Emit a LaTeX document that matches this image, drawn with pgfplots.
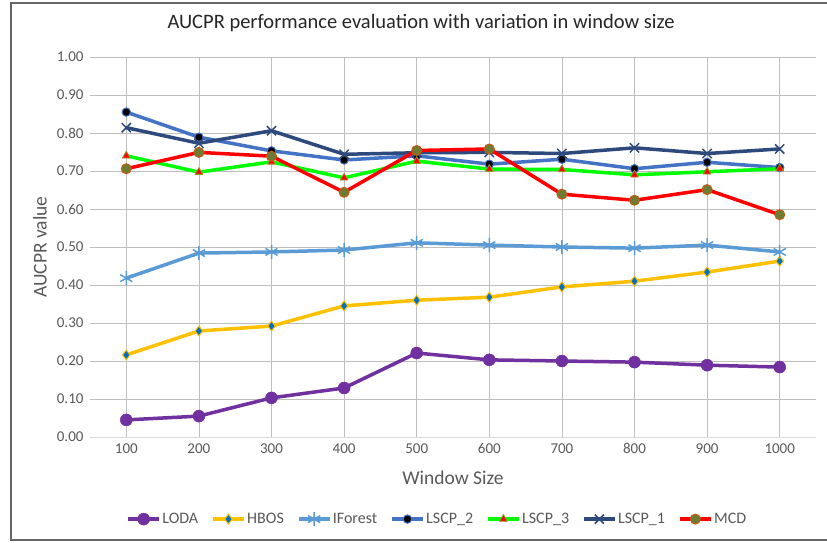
\documentclass[border=0pt]{standalone}
\usepackage{fontspec}
\setmainfont{Carlito}
\usepackage{pgfplots}
\pgfplotsset{compat=1.18}
\usetikzlibrary{plotmarks}
\definecolor{grid}{HTML}{D9D9D9}
\definecolor{txt}{HTML}{595959}
\definecolor{loda}{HTML}{7030A0}
\definecolor{hbos}{HTML}{FFC000}
\definecolor{hbosm}{HTML}{0070C0}
\definecolor{ifor}{HTML}{5B9BD5}
\definecolor{lscptwo}{HTML}{4472C4}
\definecolor{lscpthree}{HTML}{00FF00}
\definecolor{lscpone}{HTML}{2E4A7D}
\definecolor{mcd}{HTML}{FF0000}
\definecolor{mcdm}{HTML}{6E7B33}
\definecolor{mcdedge}{HTML}{C55A11}
\begin{document}
\begin{tikzpicture}[x=1pt,y=1pt]
\useasboundingbox (-90,-105) rectangle (737,437);
\draw[color=black!60, line width=1.2pt] (737,434) -- (-79,434) -- (-79,-103) -- (737,-103);
\begin{axis}[
  at={(0,0)}, anchor=south west,
  scale only axis, width=726pt, height=380pt,
  xmin=0.5, xmax=10.5, ymin=0, ymax=1,
  xtick={1,...,10},
  xticklabels={100,200,300,400,500,600,700,800,900,1000},
  ytick={0,0.1,...,1.01},
  yticklabel={\pgfmathprintnumber[fixed,fixed zerofill,precision=2]{\tick}},
  /pgf/number format/assume math mode=true,
  ymajorgrids, grid style={grid, line width=0.8pt},
  axis x line*=bottom, axis y line*=left,
  x axis line style={draw=grid, line width=0.8pt},
  y axis line style={draw=none},
  major tick length=0pt,
  tick label style={font=\fontsize{15}{17}\selectfont, text=txt},
  yticklabel style={xshift=-3pt},
  xticklabel style={yshift=-3pt},
  xlabel={Window Size}, ylabel={AUCPR value},
  label style={font=\fontsize{19.5}{21}\selectfont, text=txt},
  xlabel style={at={(0.5,-0.108)}, anchor=center},
  ylabel style={at={(-0.069,0.5)}, anchor=center, rotate=0},
  title={AUCPR performance evaluation with variation in window size},
  title style={font=\fontsize{20.5}{22}\selectfont, text=black!85, at={(0.456,1.074)}, anchor=center},
  legend columns=7,
  legend style={at={(0.478,-0.216)}, anchor=center, draw=none, fill=none,
    font=\fontsize{16}{18}\selectfont, text=txt,
    nodes={inner xsep=1.5pt},
    /tikz/every even column/.append style={column sep=11.5pt}},
  legend image code/.code={
    \draw[#1, mark repeat=2, mark phase=2] plot coordinates {(0pt,0pt) (15.5pt,0pt) (31pt,0pt)};
  },
  every axis plot/.append style={line width=3.5pt, line join=round},
  clip=false,
]
\addplot[loda, mark=*, mark size=6pt, mark options={fill=loda, draw=loda, line width=0.5pt}]
 coordinates {(1,0.045)(2,0.055)(3,0.103)(4,0.129)(5,0.221)(6,0.203)(7,0.200)(8,0.197)(9,0.189)(10,0.184)};
\addlegendentry{LODA}
\addplot[hbos, mark=diamond*, mark size=5pt, mark options={fill=hbosm, draw=hbos, line width=1pt}]
 coordinates {(1,0.216)(2,0.279)(3,0.292)(4,0.345)(5,0.360)(6,0.368)(7,0.395)(8,0.410)(9,0.434)(10,0.463)};
\addlegendentry{HBOS}
\addplot[ifor, mark=asterisk, mark size=7pt, mark options={draw=ifor, line width=1.5pt}]
 coordinates {(1,0.418)(2,0.484)(3,0.487)(4,0.492)(5,0.511)(6,0.505)(7,0.500)(8,0.497)(9,0.505)(10,0.487)};
\addlegendentry{IForest}
\addplot[lscptwo, mark=*, mark size=4.2pt, mark options={fill=black, draw=lscptwo, line width=1pt}]
 coordinates {(1,0.855)(2,0.789)(3,0.753)(4,0.729)(5,0.740)(6,0.718)(7,0.731)(8,0.706)(9,0.723)(10,0.709)};
\addlegendentry{LSCP\_2}
\addplot[lscpthree, mark=triangle*, mark size=4.5pt, mark options={fill=mcd, draw=mcdm!70!hbos, line width=0.8pt}]
 coordinates {(1,0.740)(2,0.697)(3,0.724)(4,0.682)(5,0.726)(6,0.705)(7,0.704)(8,0.690)(9,0.698)(10,0.706)};
\addlegendentry{LSCP\_3}
\addplot[lscpone, mark=x, mark size=6.5pt, mark options={draw=lscpone, line width=1.5pt}]
 coordinates {(1,0.814)(2,0.773)(3,0.806)(4,0.744)(5,0.748)(6,0.749)(7,0.746)(8,0.761)(9,0.746)(10,0.758)};
\addlegendentry{LSCP\_1}
\addplot[mcd, mark=*, mark size=5pt, mark options={fill=mcdm, draw=mcdedge, line width=1pt}]
 coordinates {(1,0.706)(2,0.749)(3,0.739)(4,0.644)(5,0.754)(6,0.758)(7,0.639)(8,0.623)(9,0.651)(10,0.585)};
\addlegendentry{MCD}
\end{axis}
\end{tikzpicture}
\end{document}
